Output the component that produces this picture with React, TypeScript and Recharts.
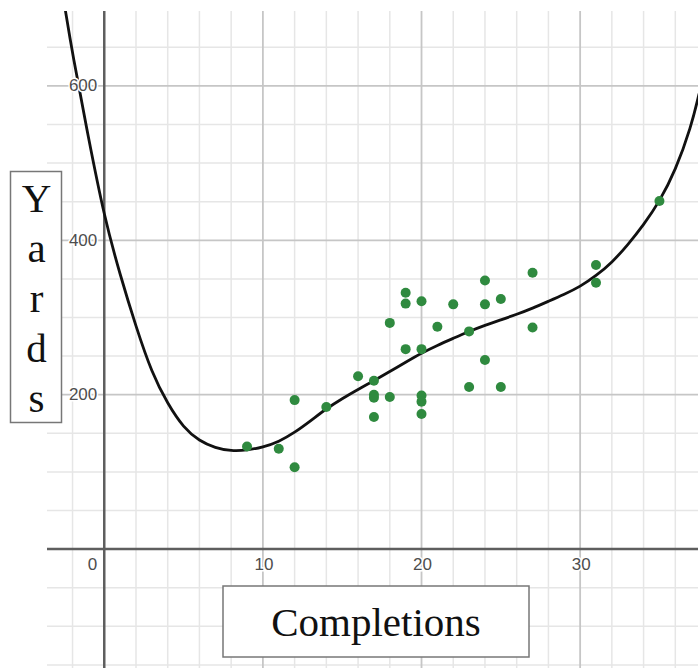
import { ComposedChart, Line, Scatter, XAxis, YAxis, ReferenceLine, ReferenceDot } from 'recharts'

// observed games: completions vs passing yards
const completions = [9, 11, 12, 12, 14, 16, 17, 17, 17, 17, 18, 18, 19, 19, 19, 20, 20, 20, 20, 20, 21, 22, 23, 23, 24, 24, 24, 25, 25, 27, 27, 31, 31, 35]
const yards = [133, 130, 193, 106, 184, 224, 218, 200, 196, 171, 197, 293, 332, 318, 259, 321, 259, 199, 191, 175, 288, 317, 282, 210, 348, 317, 245, 324, 210, 358, 287, 368, 345, 451]

// regression curve
const fitCompletions = [-2.5, -2, -1, 0, 1, 2, 3, 4, 5, 6, 7, 8, 9, 10, 11, 12, 13, 14, 15, 16, 17, 18, 19, 20, 21, 22, 23, 24, 25, 26, 27, 28, 29, 30, 31, 32, 33, 34, 35, 36, 37, 37.5]
const fitYards = [704, 641, 533, 430, 355, 288, 228, 188, 157, 140, 131, 127, 128, 132, 139, 151, 166, 182, 195, 207, 218, 230, 242, 254, 264, 273, 282, 290, 297, 304, 312, 321, 330, 340, 354, 371, 394, 420, 450, 490, 547, 590]

// grid and tick values
const minorX = [-2, 2, 4, 6, 8, 12, 14, 16, 18, 22, 24, 26, 28, 32, 34, 36]
const majorX = [10, 20, 30]
const minorY = [-150, -100, -50, 50, 100, 150, 250, 300, 350, 450, 500, 550, 650]
const majorY = [200, 400, 600]
const xTicks = [0, 10, 20, 30]
const yTicks = [200, 400, 600]

const points = completions.map((x, i) => ({ x, y: yards[i] }))
const fit = fitCompletions.map((x, i) => ({ x, y: fitYards[i] }))

const sans = '"Liberation Sans", Arial, sans-serif'
const serif = '"Liberation Serif", "Times New Roman", serif'

function tickText(text: string, dx: number, dy: number, anchor: 'middle' | 'end') {
  return (p: any) => (
    <text
      x={p.cx + dx}
      y={p.cy + dy}
      textAnchor={anchor}
      dominantBaseline="central"
      fontFamily={sans}
      fontSize={17}
      fill="#4d4d4d"
      stroke="#fff"
      strokeWidth={3}
      paintOrder="stroke"
    >
      {text}
    </text>
  )
}

export default function App() {
  return (
    <div style={{ position: 'absolute', left: 0, top: 0, width: 698, height: 668 }}>
      <ComposedChart width={698} height={668} margin={{ top: 11, right: 0, bottom: 0, left: 47 }}>
        <XAxis type="number" dataKey="x" domain={[-3.61, 37.43]} allowDataOverflow hide />
        <YAxis type="number" dataKey="y" domain={[-154, 697]} allowDataOverflow hide />

        {minorX.map((v) => (
          <ReferenceLine key={'mx' + v} x={v} stroke="#e6e6e6" strokeWidth={1.5} zIndex={-100} />
        ))}
        {minorY.map((v) => (
          <ReferenceLine key={'my' + v} y={v} stroke="#e6e6e6" strokeWidth={1.5} zIndex={-100} />
        ))}
        {majorX.map((v) => (
          <ReferenceLine key={'Mx' + v} x={v} stroke="#c6c6c6" strokeWidth={1.8} zIndex={-90} />
        ))}
        {majorY.map((v) => (
          <ReferenceLine key={'My' + v} y={v} stroke="#c6c6c6" strokeWidth={1.8} zIndex={-90} />
        ))}
        <ReferenceLine x={0} stroke="#5e5e5e" strokeWidth={2.5} zIndex={-80} />
        <ReferenceLine y={0} stroke="#5e5e5e" strokeWidth={2.5} zIndex={-80} />

        <Line
          data={fit}
          dataKey="y"
          type="basis"
          stroke="#111"
          strokeWidth={2.8}
          dot={false}
          activeDot={false}
          isAnimationActive={false}
        />
        <Scatter data={points} fill="#2f8a3f" isAnimationActive={false} shape={(p: any) => <circle cx={p.cx} cy={p.cy} r={5} fill="#2f8a3f" />} />

        {xTicks.map((v) => (
          <ReferenceDot
            key={'xt' + v}
            x={v}
            y={0}
            r={0}
            zIndex={2000}
            shape={v === 0 ? tickText('0', -7, 15, 'end') : tickText(String(v), 1, 15, 'middle')}
          />
        ))}
        {yTicks.map((v) => (
          <ReferenceDot key={'yt' + v} x={0} y={v} r={0} zIndex={2000} shape={tickText(String(v), -7, 0, 'end')} />
        ))}
      </ComposedChart>

      <svg width={698} height={668} style={{ position: 'absolute', left: 0, top: 0, pointerEvents: 'none' }}>
        <rect x={10.5} y={171.5} width={51} height={251} fill="#fff" stroke="#777" strokeWidth={1.5} />
        {['Y', 'a', 'r', 'd', 's'].map((ch, i) => (
          <text key={ch} x={36.5} y={212 + i * 50} textAnchor="middle" fontFamily={serif} fontSize={41} fill="#111">
            {ch}
          </text>
        ))}
        <rect x={223} y={586} width={306} height={71} fill="#fff" stroke="#777" strokeWidth={1.5} />
        <text x={376} y={636} textAnchor="middle" fontFamily={serif} fontSize={41} fill="#111">
          Completions
        </text>
      </svg>
    </div>
  )
}
